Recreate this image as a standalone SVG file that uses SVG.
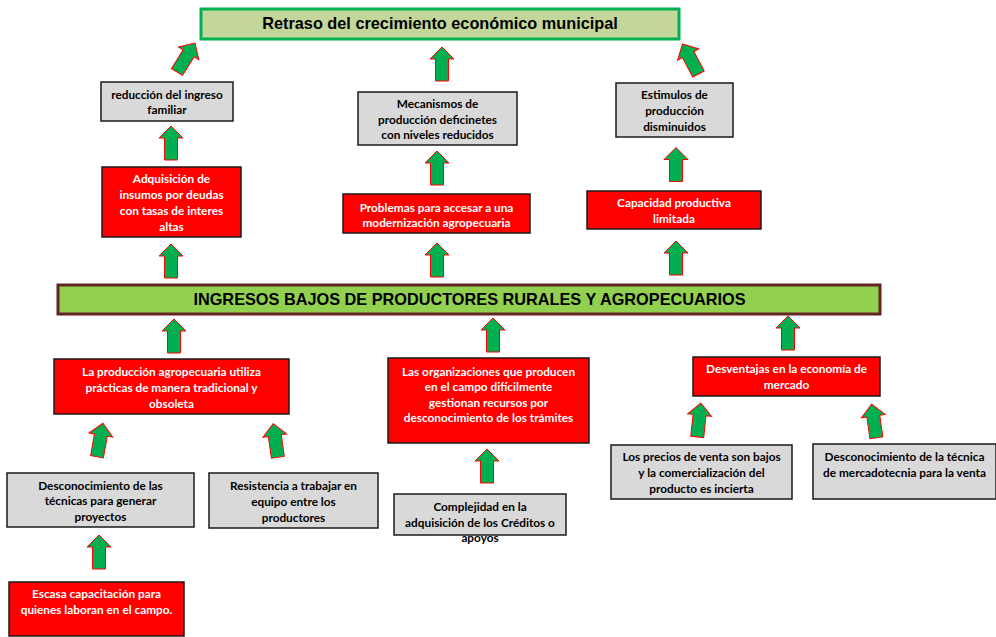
<svg xmlns="http://www.w3.org/2000/svg" xmlns:xlink="http://www.w3.org/1999/xlink" width="996" height="637" viewBox="0 0 996 637">
<style>
.g{fill:#d9d9d9;stroke:#1a1a1a;stroke-width:1.5}
.r{fill:#ff0000;stroke:#1a1a1a;stroke-width:1.5}
.t{font-family:Lato,"Liberation Sans",sans-serif;font-weight:bold;font-size:11.8px;text-anchor:middle}
.tg{fill:#000}
.tr{fill:#fff}
.big{font-family:"Liberation Sans",Arial,sans-serif;font-weight:bold;text-anchor:middle;fill:#000}
</style>
<defs>
<path id="arr" d="M0,-17 L12,-5 L6.5,-5 L6.5,17 L-6.5,17 L-6.5,-5 L-12,-5 Z" fill="#00b050" stroke="#ff0000" stroke-width="1"/>
</defs>
<g id="connectors">
<use xlink:href="#arr" transform="translate(186,57.5) rotate(32)"/>
<use xlink:href="#arr" transform="translate(442,64)"/>
<use xlink:href="#arr" transform="translate(690.5,59) rotate(-28)"/>
<use xlink:href="#arr" transform="translate(171,143)"/>
<use xlink:href="#arr" transform="translate(437,168)"/>
<use xlink:href="#arr" transform="translate(676,164.5)"/>
<use xlink:href="#arr" transform="translate(171,261)"/>
<use xlink:href="#arr" transform="translate(437,260)"/>
<use xlink:href="#arr" transform="translate(676,258)"/>
<use xlink:href="#arr" transform="translate(174,336)"/>
<use xlink:href="#arr" transform="translate(493,335)"/>
<use xlink:href="#arr" transform="translate(788,333)"/>
<use xlink:href="#arr" transform="translate(100,440) rotate(10)"/>
<use xlink:href="#arr" transform="translate(275.5,440.5) rotate(-8)"/>
<use xlink:href="#arr" transform="translate(487,466)"/>
<use xlink:href="#arr" transform="translate(699,420) rotate(6)"/>
<use xlink:href="#arr" transform="translate(874,421) rotate(-8)"/>
<use xlink:href="#arr" transform="translate(99,552)"/>
</g>
<g id="title">
<rect x="201" y="9" width="478" height="30" fill="#c4d79b" stroke="#00b050" stroke-width="3"/>
<text class="big" x="440" y="29" font-size="16.3">Retraso del crecimiento económico municipal</text>
</g>
<g id="g1"><rect class="g" x="101" y="82" width="132" height="39"/>
<text class="t tg" x="167" y="99">reducción del ingreso</text><text class="t tg" x="167" y="114">familiar</text></g>
<g id="g2"><rect class="g" x="358" y="92" width="159" height="53"/>
<text class="t tg" x="437.5" y="108">Mecanismos de</text><text class="t tg" x="437.5" y="124">producción deficinetes</text><text class="t tg" x="437.5" y="139">con niveles reducidos</text></g>
<g id="g3"><rect class="g" x="616" y="83" width="117" height="54"/>
<text class="t tg" x="674.5" y="99">Estimulos de</text><text class="t tg" x="674.5" y="115">producción</text><text class="t tg" x="674.5" y="131">disminuidos</text></g>
<g id="r1"><rect class="r" x="102" y="167" width="139" height="70"/>
<text class="t tr" x="171.5" y="183">Adquisición de</text><text class="t tr" x="171.5" y="199">insumos por deudas</text><text class="t tr" x="171.5" y="215">con tasas de interes</text><text class="t tr" x="171.5" y="231">altas</text></g>
<g id="r2"><rect class="r" x="343" y="194" width="187" height="39"/>
<text class="t tr" x="436.5" y="212">Problemas para accesar a una</text><text class="t tr" x="436.5" y="227">modernización agropecuaria</text></g>
<g id="r3"><rect class="r" x="587" y="191" width="174" height="38"/>
<text class="t tr" x="674" y="207">Capacidad productiva</text><text class="t tr" x="674" y="223">limitada</text></g>
<g id="main">
<rect x="58" y="285" width="822" height="29" fill="#92d050" stroke="#632523" stroke-width="3"/>
<text class="big" x="469.5" y="305" font-size="16.3">INGRESOS BAJOS DE PRODUCTORES RURALES Y AGROPECUARIOS</text>
</g>
<g id="r4"><rect class="r" x="54" y="359" width="235" height="55"/>
<text class="t tr" x="171.5" y="376">La producción agropecuaria utiliza</text><text class="t tr" x="171.5" y="392">prácticas de manera tradicional y</text><text class="t tr" x="171.5" y="408">obsoleta</text></g>
<g id="r5"><rect class="r" x="388" y="358" width="201" height="85"/>
<text class="t tr" x="488.5" y="376">Las organizaciones que producen</text><text class="t tr" x="488.5" y="391">en el campo difícilmente</text><text class="t tr" x="488.5" y="407">gestionan recursos por</text><text class="t tr" x="488.5" y="422">desconocimiento de los trámites</text></g>
<g id="r6"><rect class="r" x="693" y="357" width="187" height="39"/>
<text class="t tr" x="786.5" y="373">Desventajas en la economía de</text><text class="t tr" x="786.5" y="389">mercado</text></g>
<g id="g4"><rect class="g" x="7" y="473" width="187" height="54"/>
<text class="t tg" x="100.5" y="490">Desconocimiento de las</text><text class="t tg" x="100.5" y="505">técnicas para generar</text><text class="t tg" x="100.5" y="521">proyectos</text></g>
<g id="g5"><rect class="g" x="209" y="473" width="169" height="55"/>
<text class="t tg" x="293.5" y="490">Resistencia a trabajar en</text><text class="t tg" x="293.5" y="506">equipo entre los</text><text class="t tg" x="293.5" y="522">productores</text></g>
<g id="g6"><rect class="g" x="394" y="494" width="172" height="41"/>
<text class="t tg" x="480" y="511">Complejidad en la</text><text class="t tg" x="480" y="527">adquisición de los Créditos o</text><text class="t tg" x="480" y="542">apoyos</text></g>
<g id="g7"><rect class="g" x="611" y="445" width="181" height="54"/>
<text class="t tg" x="701.5" y="461">Los precios de venta son bajos</text><text class="t tg" x="701.5" y="477">y la comercialización del</text><text class="t tg" x="701.5" y="493">producto es incierta</text></g>
<g id="g8"><rect class="g" x="813" y="444" width="183" height="55"/>
<text class="t tg" x="904.5" y="461">Desconocimiento de la técnica</text><text class="t tg" x="904.5" y="477">de mercadotecnia para la venta</text></g>
<g id="r7"><rect class="r" x="9" y="582" width="175" height="54"/>
<text class="t tr" x="96.5" y="598">Escasa capacitación para</text><text class="t tr" x="96.5" y="614">quienes laboran en el campo.</text></g>
</svg>
